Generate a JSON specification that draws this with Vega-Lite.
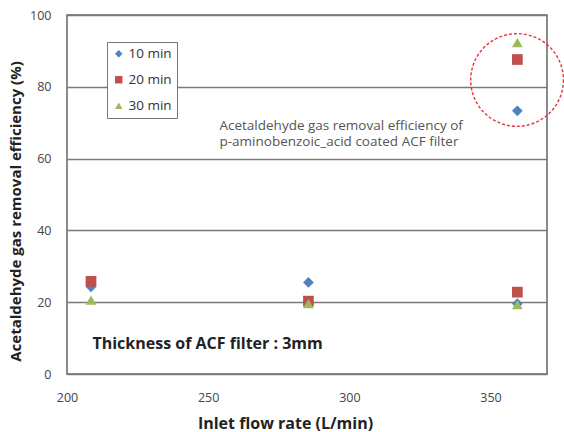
{
  "$schema": "https://vega.github.io/schema/vega-lite/v6.json",
  "width": 480,
  "height": 359,
  "autosize": {"type": "none"},
  "padding": {"left": 67, "top": 15, "right": 17, "bottom": 58},
  "background": "white",
  "config": {
    "font": "Open Sans",
    "view": {"stroke": "#666666", "strokeWidth": 1.5}
  },
  "datasets": {
    "removal": [
      {"flow": 208.5, "eff": 24.3, "time": "10 min"},
      {"flow": 285.5, "eff": 25.5, "time": "10 min"},
      {"flow": 359.5, "eff": 19.6, "time": "10 min"},
      {"flow": 359.5, "eff": 73.3, "time": "10 min"},
      {"flow": 208.5, "eff": 25.8, "time": "20 min"},
      {"flow": 285.5, "eff": 20.3, "time": "20 min"},
      {"flow": 359.5, "eff": 22.8, "time": "20 min"},
      {"flow": 359.5, "eff": 87.6, "time": "20 min"},
      {"flow": 208.5, "eff": 20.6, "time": "30 min"},
      {"flow": 285.5, "eff": 19.6, "time": "30 min"},
      {"flow": 359.5, "eff": 19.3, "time": "30 min"},
      {"flow": 359.5, "eff": 92.3, "time": "30 min"}
    ],
    "notes": [
      {"flow": 254, "eff": 69.2, "label": "Acetaldehyde gas removal efficiency of"},
      {"flow": 254, "eff": 64.5, "label": "p-aminobenzoic_acid coated ACF filter"}
    ],
    "thickness": [
      {"flow": 209, "eff": 8.3, "label": "Thickness of ACF filter : 3mm"}
    ],
    "highlight": [
      {"flow": 359.4, "eff": 81.9}
    ]
  },
  "layer": [
    {
      "data": {"name": "removal"},
      "mark": {"type": "point", "filled": true, "size": 115, "opacity": 1},
      "encoding": {
        "x": {
          "field": "flow",
          "type": "quantitative",
          "scale": {"domain": [200, 370], "nice": false, "zero": false},
          "axis": {
            "title": "Inlet flow rate (L/min)",
            "values": [200, 250, 300, 350],
            "grid": false,
            "domain": false,
            "ticks": false,
            "labelFlush": false,
            "labelPadding": 17,
            "labelFontSize": 12.5,
            "labelColor": "#444444",
            "titleFontSize": 16,
            "titleFontWeight": "bold",
            "titleColor": "#222222",
            "titleX": 218,
            "titleY": 49,
            "titleBaseline": "middle",
            "titleAlign": "center"
          }
        },
        "y": {
          "field": "eff",
          "type": "quantitative",
          "scale": {"domain": [0, 100], "nice": false},
          "axis": {
            "title": "Acetaldehyde gas removal efficiency (%)",
            "values": [0, 20, 40, 60, 80, 100],
            "grid": true,
            "gridColor": "#7a7a7a",
            "gridWidth": 1.5,
            "gridOpacity": 1,
            "domain": false,
            "ticks": false,
            "labelPadding": 16,
            "labelFontSize": 12.5,
            "labelColor": "#444444",
            "titleFontSize": 15,
            "titleFontWeight": "bold",
            "titleColor": "#222222",
            "titlePadding": 6,
            "titleY": 196,
            "titleAlign": "center"
          }
        },
        "color": {
          "field": "time",
          "type": "nominal",
          "scale": {
            "domain": ["10 min", "20 min", "30 min"],
            "range": ["#4F81BD", "#C0504D", "#9BBB59"]
          },
          "legend": {
            "title": null,
            "orient": "none",
            "legendX": 40,
            "legendY": 27,
            "direction": "vertical",
            "strokeColor": "#777777",
            "fillColor": "white",
            "padding": 5,
            "rowPadding": 11,
            "symbolSize": 55,
            "labelFontSize": 13.5,
            "labelColor": "#333333",
            "symbolOffset": 0,
            "labelOffset": 3
          }
        },
        "shape": {
          "field": "time",
          "type": "nominal",
          "scale": {
            "domain": ["10 min", "20 min", "30 min"],
            "range": ["diamond", "square", "triangle-up"]
          },
          "legend": null
        },
        "order": {"field": "time"}
      }
    },
    {
      "data": {"name": "notes"},
      "mark": {"type": "text", "align": "left", "baseline": "middle", "fontSize": 13.5, "color": "#555555"},
      "encoding": {
        "x": {"field": "flow", "type": "quantitative"},
        "y": {"field": "eff", "type": "quantitative"},
        "text": {"field": "label"}
      }
    },
    {
      "data": {"name": "thickness"},
      "mark": {"type": "text", "align": "left", "baseline": "middle", "fontSize": 16, "fontWeight": "bold", "color": "#222222"},
      "encoding": {
        "x": {"field": "flow", "type": "quantitative"},
        "y": {"field": "eff", "type": "quantitative"},
        "text": {"field": "label"}
      }
    },
    {
      "data": {"name": "highlight"},
      "mark": {"type": "point", "shape": "circle", "filled": false, "size": 8600, "stroke": "#E8333F", "strokeWidth": 1.4, "strokeDash": [3, 2], "opacity": 1},
      "encoding": {
        "x": {"field": "flow", "type": "quantitative"},
        "y": {"field": "eff", "type": "quantitative"}
      }
    }
  ]
}
